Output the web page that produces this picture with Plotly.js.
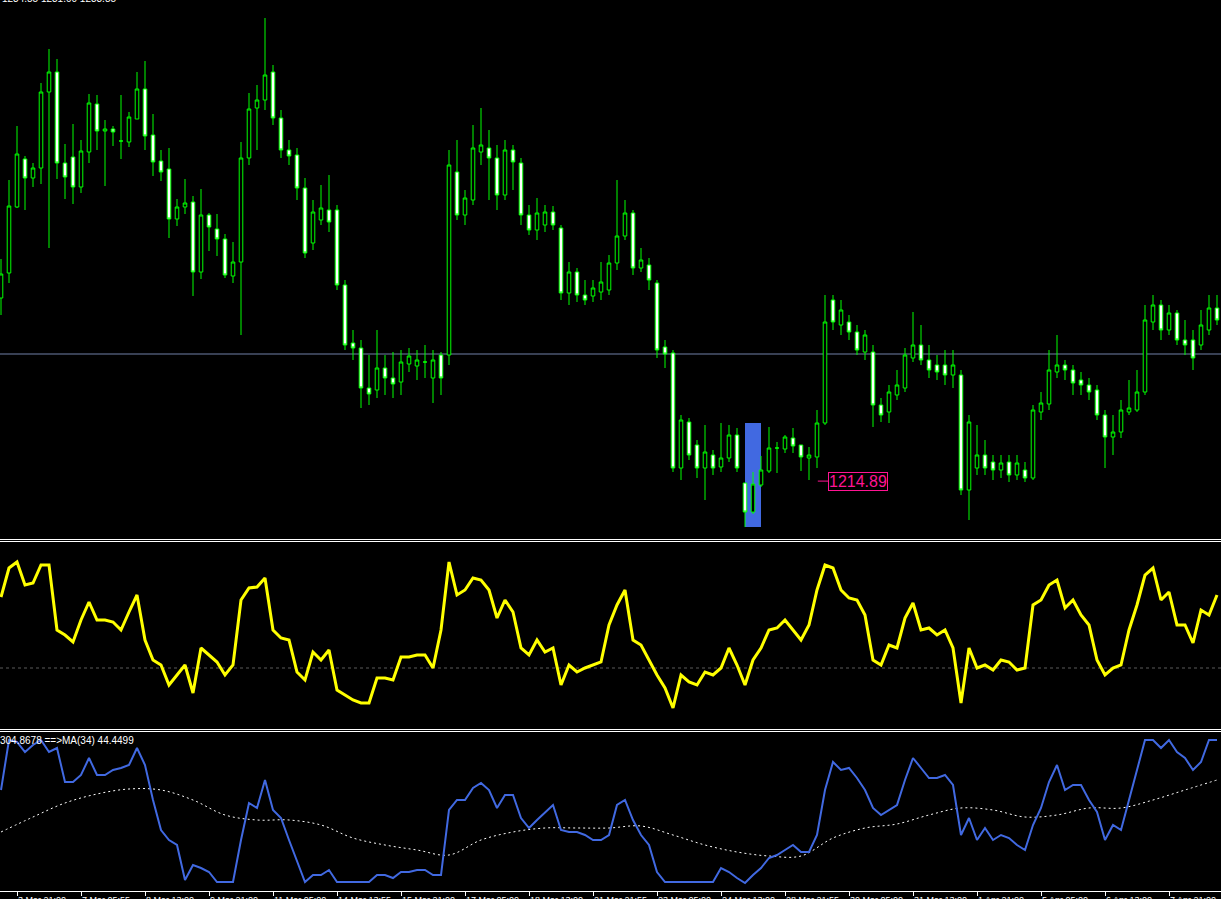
<!DOCTYPE html>
<html>
<head>
<meta charset="utf-8">
<script src="https://cdn.plot.ly/plotly-3.0.1.min.js"></script>
<style>
html,body{margin:0;padding:0;background:#000;}
#chart{width:1221px;height:899px;}
</style>
</head>
<body>
<div id="chart"></div>
<script>
// ---- Price candles (H4) ----
const opens = [
1233.2,1235.7,1242.3,1247.1,1245.2,1246.2,1253.8,1255.8,1246.7,1247.3,
1244.3,1247.8,1252.6,1249.9,1250.1,1248.9,1248.8,1251.1,1254.1,1249.5,
1246.9,1246.1,1241.1,1242.3,1242.8,1235.8,1241.5,1240.1,1239.1,1235.4,
1236.8,1247.2,1252.2,1253.0,1255.8,1251.2,1248.0,1247.5,1244.2,1238.7,
1241.0,1242.0,1242.0,1234.5,1228.7,1228.2,1224.2,1224.0,1226.2,1225.2,
1224.8,1226.6,1226.4,1226.8,1225.2,1227.5,1227.5,1245.8,1241.5,1243.0,
1247.8,1248.2,1247.2,1243.5,1248.0,1246.7,1241.5,1240.0,1240.5,1241.8,
1240.2,1233.7,1235.8,1233.5,1233.4,1233.8,1234.0,1236.7,1239.4,1241.7,
1236.2,1236.5,1234.7,1228.3,1227.7,1216.2,1220.8,1218.5,1216.2,1217.5,
1216.3,1217.2,1219.5,1214.7,1211.8,1214.5,1215.9,1218.2,1218.1,1219.2,
1218.5,1217.2,1217.3,1220.7,1233.0,1230.5,1230.8,1229.8,1227.8,1227.8,
1222.5,1221.8,1223.5,1224.2,1227.2,1228.5,1227.0,1226.5,1226.5,1225.5,
1225.5,1214.0,1216.2,1217.5,1216.8,1216.0,1216.8,1215.5,1216.0,1215.2,
1221.8,1222.6,1225.8,1226.5,1226.0,1225.0,1224.5,1224.0,1221.5,1219.3,
1219.8,1221.8,1222.0,1223.8,1230.8,1232.5,1230.0,1231.7,1229.0,1229.0,
1228.5,1230.0,1232.2];
const highs = [
1237.1,1245.0,1250.4,1247.4,1246.7,1254.7,1258.1,1257.1,1248.6,1250.6,
1249.0,1253.6,1253.5,1251.0,1250.4,1253.5,1251.8,1255.8,1256.9,1251.6,
1248.0,1248.2,1243.1,1245.1,1243.4,1244.1,1241.7,1241.6,1239.6,1238.8,
1248.8,1253.7,1254.5,1261.2,1256.5,1252.0,1249.0,1248.2,1245.2,1243.0,
1244.5,1245.5,1242.5,1235.0,1230.0,1229.0,1227.5,1230.0,1227.5,1227.8,
1228.0,1228.2,1228.0,1228.5,1228.0,1227.8,1248.0,1249.0,1244.0,1250.5,
1252.2,1250.0,1248.5,1249.0,1248.5,1247.2,1242.5,1243.2,1242.5,1242.4,
1240.5,1236.8,1236.2,1235.0,1235.0,1236.8,1237.5,1245.0,1243.0,1242.0,
1238.2,1237.2,1235.0,1229.0,1228.0,1221.5,1221.2,1219.0,1220.5,1218.0,
1220.7,1220.5,1220.2,1214.7,1215.8,1217.4,1220.3,1218.8,1219.5,1220.2,
1218.5,1218.3,1222.0,1233.5,1233.5,1233.0,1231.5,1230.5,1230.0,1228.5,
1223.2,1224.5,1226.0,1228.2,1231.8,1230.5,1228.5,1227.5,1228.0,1228.0,
1226.0,1221.5,1220.5,1219.0,1217.5,1217.5,1217.5,1217.5,1216.8,1222.5,
1223.8,1228.0,1229.5,1227.0,1226.5,1225.8,1225.2,1224.5,1222.0,1221.5,
1223.0,1225.0,1226.0,1232.5,1233.5,1233.0,1232.5,1232.0,1231.0,1230.0,
1232.0,1233.5,1233.5];
const lows = [
1231.5,1234.7,1242.2,1242.0,1244.3,1244.6,1238.2,1245.1,1243.1,1242.6,
1243.7,1246.7,1248.0,1244.4,1248.4,1247.1,1248.3,1251.1,1248.0,1245.4,
1244.9,1239.2,1240.4,1241.6,1233.4,1235.1,1237.9,1237.4,1235.2,1234.7,
1229.5,1246.5,1248.0,1252.0,1250.5,1247.2,1246.5,1243.0,1237.2,1238.0,
1240.5,1239.8,1234.0,1228.0,1227.0,1222.2,1222.5,1223.2,1223.5,1223.2,
1223.5,1225.8,1225.0,1225.2,1222.7,1223.5,1226.5,1241.0,1240.5,1242.5,
1246.5,1243.0,1242.0,1243.0,1244.0,1240.5,1239.5,1239.0,1239.8,1240.0,
1233.0,1232.5,1232.8,1232.5,1232.8,1233.0,1233.5,1236.0,1239.0,1235.5,
1235.8,1234.0,1227.2,1226.2,1215.8,1215.0,1217.0,1215.2,1213.0,1215.5,
1215.8,1216.8,1215.8,1210.3,1211.6,1214.3,1215.7,1215.7,1217.7,1217.7,
1215.9,1215.0,1216.2,1220.5,1230.0,1229.5,1229.0,1227.5,1227.0,1220.3,
1220.8,1220.7,1223.0,1223.8,1226.8,1226.5,1225.2,1225.0,1224.5,1224.2,
1213.5,1211.0,1215.5,1215.5,1215.0,1215.2,1214.8,1215.0,1214.8,1215.0,
1221.0,1222.0,1225.2,1225.0,1223.5,1223.5,1223.0,1221.0,1216.2,1217.5,
1219.2,1221.5,1221.8,1223.5,1230.0,1229.0,1229.5,1228.5,1227.5,1226.0,
1228.0,1229.5,1230.5];
const closes = [
1235.6,1242.4,1247.6,1245.2,1246.2,1253.8,1255.8,1246.7,1245.3,1244.3,
1247.9,1252.7,1249.9,1250.1,1249.8,1248.9,1251.3,1254.1,1249.4,1246.8,
1245.8,1241.1,1242.3,1242.7,1235.8,1241.5,1240.3,1239.1,1235.5,1236.8,
1247.2,1252.1,1253.0,1255.5,1251.2,1248.0,1247.4,1244.2,1237.7,1241.8,
1242.2,1240.8,1234.5,1228.5,1228.2,1224.2,1223.6,1226.2,1225.2,1224.6,
1226.8,1227.4,1227.0,1226.8,1227.0,1225.2,1246.5,1241.5,1243.2,1248.2,
1248.5,1247.2,1243.5,1248.0,1246.8,1241.5,1240.0,1241.7,1241.8,1240.5,
1233.7,1235.8,1233.5,1233.0,1234.2,1234.8,1236.7,1239.4,1241.7,1236.2,
1237.0,1235.0,1228.0,1227.6,1216.2,1221.0,1217.5,1216.2,1217.8,1216.2,
1217.2,1219.5,1216.2,1211.8,1214.6,1216.0,1218.2,1218.2,1219.3,1218.4,
1217.3,1217.5,1220.7,1230.8,1230.8,1232.0,1229.8,1228.0,1229.5,1222.5,
1221.5,1223.8,1224.5,1227.5,1228.5,1227.0,1226.0,1225.8,1225.5,1226.5,
1214.0,1220.8,1217.5,1216.2,1216.0,1216.7,1215.5,1216.7,1215.2,1222.0,
1222.7,1226.0,1226.5,1226.0,1224.7,1224.5,1223.8,1221.5,1219.3,1219.8,
1222.0,1222.2,1223.8,1231.0,1232.5,1230.0,1231.7,1229.0,1228.5,1227.2,
1230.5,1232.2,1231.0];

// ---- Oscillator panel 2 (yellow) ----
const osc = [
65.5,80,83,71.5,72.5,81.5,81.5,49,46.5,43,
54,63,54,54,53,49,58,66.5,44,34,
31.5,21.5,26.5,31.5,17.5,40,36.5,33,26.5,31.5,
64,70,70.5,75,49,45,44,28,24,38,
34,39,19,16.5,14,12.5,12.5,25,25,24,
35.5,35.5,36.5,36.5,30,49,83,66.5,69,75,
74,69,55,64,58,40,36.5,44,38,40,
21.5,31.5,28,30,31.5,33,51.5,61.5,69,44,
41.5,34,26.5,20,10,26.5,23,21.5,28,26.5,
30,40,31.5,21.5,34,40,49,50,54,49,
44,51.5,69,81.5,80,69,65,64,56.5,34,
31.5,41.5,40,55,62.5,49,50,46.5,49,40,
12.5,40,30,31.5,29,34,33,29,30,61.5,
64,71.5,74,60,64,56.5,51.5,34,26.5,30,
31.5,49,61.5,76.5,80,64,68,51.5,51.5,42.5,
59,56.5,66.5];
const oscLevel = 30;

// ---- Panel 3 (blue line + MA(34)) ----
const blue = [
93,143,141,131,138,143,131,135,101,101,
108,125,108,108,113,115,118,135,118,83,
53,43,38,3,18,15,11,1,1,1,
43,80,75,103,73,65,43,21,1,8,
8,13,1,1,1,1,1,8,8,5,
11,11,13,13,8,8,73,83,83,95,
100,93,75,88,88,65,55,63,71,78,
53,51,51,48,43,43,48,78,83,63,
48,38,11,1,1,1,1,1,1,1,
15,11,5,0,8,15,25,28,33,38,
31,31,48,93,121,113,115,105,93,75,
68,73,78,103,125,115,105,105,108,98,
48,65,43,55,43,48,45,38,33,58,
75,101,118,93,98,98,83,71,43,58,
53,83,113,143,143,135,143,131,125,113,
121,143,143];
const maStep = 4;
const ma34 = [
51,66,80,89,94,93,83,68,63,63,
58,45,38,33,28,43,51,55,55,55,
57,48,38,31,27,27,45,55,59,68,
75,73,66,68,75,75,83,93,103];

// ---- Text / objects ----
const tickIdx = [2,10,18,26,34,42,50,58,66,74,82,90,98,106,114,122,130,138,146];
const tickLabels = ["3 Mar 21:00","7 Mar 05:55","8 Mar 13:00","9 Mar 21:00","11 Mar 05:00",
  "14 Mar 13:55","15 Mar 21:00","17 Mar 05:00","18 Mar 13:00","21 Mar 21:55","23 Mar 05:00",
  "24 Mar 13:00","28 Mar 21:55","30 Mar 05:00","31 Mar 13:00","1 Apr 21:00","5 Apr 05:00",
  "6 Apr 13:00","7 Apr 21:00"];
const hLinePrice = 1227.6;
const priceLabel = 1214.89;
const priceLabelIdx = 103.4;
const boxIdx = [93, 95];
const boxPrice = [1210.3, 1220.7];
const topInfo = "1234.85 1231.00 1233.85";
const panel3Info = "304.8678 ==>MA(34) 44.4499";

const H = 899;
const py = p => 1 - p / H;

const idx = opens.map((_, i) => i);
const oscX = osc.map((_, i) => i);
const blueX = blue.map((_, i) => i);
const maX = ma34.map((_, i) => i * maStep);

const traces = [
  {
    type: 'candlestick', x: idx, open: opens, high: highs, low: lows, close: closes,
    xaxis: 'x', yaxis: 'y', whiskerwidth: 0, hoverinfo: 'skip',
    increasing: {line: {color: '#00ff00', width: 1}, fillcolor: '#000000'},
    decreasing: {line: {color: '#00ff00', width: 1}, fillcolor: '#ffffff'}
  },
  {type: 'scatter', mode: 'lines', x: oscX, y: osc, xaxis: 'x', yaxis: 'y2',
   line: {color: '#ffff00', width: 3}, hoverinfo: 'skip'},
  {type: 'scatter', mode: 'lines', x: maX, y: ma34, xaxis: 'x', yaxis: 'y3',
   line: {color: '#ffffff', width: 1, dash: '2px,3px', shape: 'spline'}, hoverinfo: 'skip'},
  {type: 'scatter', mode: 'lines', x: blueX, y: blue, xaxis: 'x', yaxis: 'y3',
   line: {color: '#4169e1', width: 2}, hoverinfo: 'skip'}
];

const shapes = [
  {type: 'rect', xref: 'x', yref: 'y', x0: boxIdx[0], x1: boxIdx[1], y0: boxPrice[0], y1: boxPrice[1],
   fillcolor: '#4169e1', line: {width: 0}, layer: 'below'},
  {type: 'line', xref: 'paper', yref: 'y', x0: 0, x1: 1, y0: hLinePrice, y1: hLinePrice,
   line: {color: '#7080a8', width: 1}, layer: 'below'},
  {type: 'line', xref: 'paper', yref: 'y2', x0: 0, x1: 1, y0: oscLevel, y1: oscLevel,
   line: {color: '#5a5a5a', width: 1, dash: 'dot'}, layer: 'below'},
  {type: 'line', xref: 'x', yref: 'y', x0: priceLabelIdx - 1.3, x1: priceLabelIdx, y0: priceLabel, y1: priceLabel,
   line: {color: '#ff1493', width: 1}},
  {type: 'line', xref: 'paper', yref: 'paper', x0: 0, x1: 1, y0: py(539.5), y1: py(539.5), line: {color: '#ffffff', width: 1}},
  {type: 'line', xref: 'paper', yref: 'paper', x0: 0, x1: 1, y0: py(541.5), y1: py(541.5), line: {color: '#ffffff', width: 1}},
  {type: 'line', xref: 'paper', yref: 'paper', x0: 0, x1: 1, y0: py(729.5), y1: py(729.5), line: {color: '#ffffff', width: 1}},
  {type: 'line', xref: 'paper', yref: 'paper', x0: 0, x1: 1, y0: py(731.5), y1: py(731.5), line: {color: '#ffffff', width: 1}}
];

const annotations = [
  {xref: 'x', yref: 'y', x: priceLabelIdx, y: priceLabel, xanchor: 'left', yanchor: 'middle',
   text: priceLabel.toFixed(2), showarrow: false,
   font: {family: 'Liberation Sans, Arial, sans-serif', size: 16, color: '#ff1493'},
   bordercolor: '#ff1493', borderwidth: 1, borderpad: 0},
  {xref: 'paper', yref: 'paper', x: 0, y: py(6), xanchor: 'left', yanchor: 'bottom',
   text: topInfo, showarrow: false, font: {family: 'Liberation Sans, Arial, sans-serif', size: 10, color: '#ffffff'}},
  {xref: 'paper', yref: 'paper', x: -0.002, y: py(733), xanchor: 'left', yanchor: 'top',
   text: panel3Info, showarrow: false, font: {family: 'Liberation Sans, Arial, sans-serif', size: 10, color: '#ffffff'}}
];
tickIdx.forEach((t, k) => {
  annotations.push({xref: 'x', yref: 'paper', x: t, y: py(893), xanchor: 'left', yanchor: 'top',
    text: tickLabels[k], showarrow: false, xshift: -1,
    font: {family: 'Liberation Sans, Arial, sans-serif', size: 9, color: '#ffffff'}});
});

const layout = {
  width: 1221, height: 899,
  margin: {l: 0, r: 0, t: 0, b: 0, pad: 0},
  paper_bgcolor: '#000000', plot_bgcolor: '#000000',
  showlegend: false, hovermode: false, boxgap: 0.36,
  xaxis: {domain: [0, 1], range: [-0.125, 152.5], anchor: 'y3',
    showgrid: false, zeroline: false, showline: true, linecolor: '#ffffff', linewidth: 1,
    ticks: 'outside', ticklen: 4, tickwidth: 1, tickcolor: '#ffffff',
    tickmode: 'array', tickvals: tickIdx, showticklabels: false,
    rangeslider: {visible: false}, fixedrange: true},
  yaxis: {domain: [py(537), 1], range: [1209.3, 1263], visible: false, fixedrange: true},
  yaxis2: {domain: [py(728), py(542)], range: [0, 93], visible: false, fixedrange: true},
  yaxis3: {domain: [py(891), py(732)], range: [-8, 151], visible: false, fixedrange: true},
  shapes: shapes,
  annotations: annotations
};

Plotly.newPlot('chart', traces, layout, {staticPlot: true, displayModeBar: false});
</script>
</body>
</html>
